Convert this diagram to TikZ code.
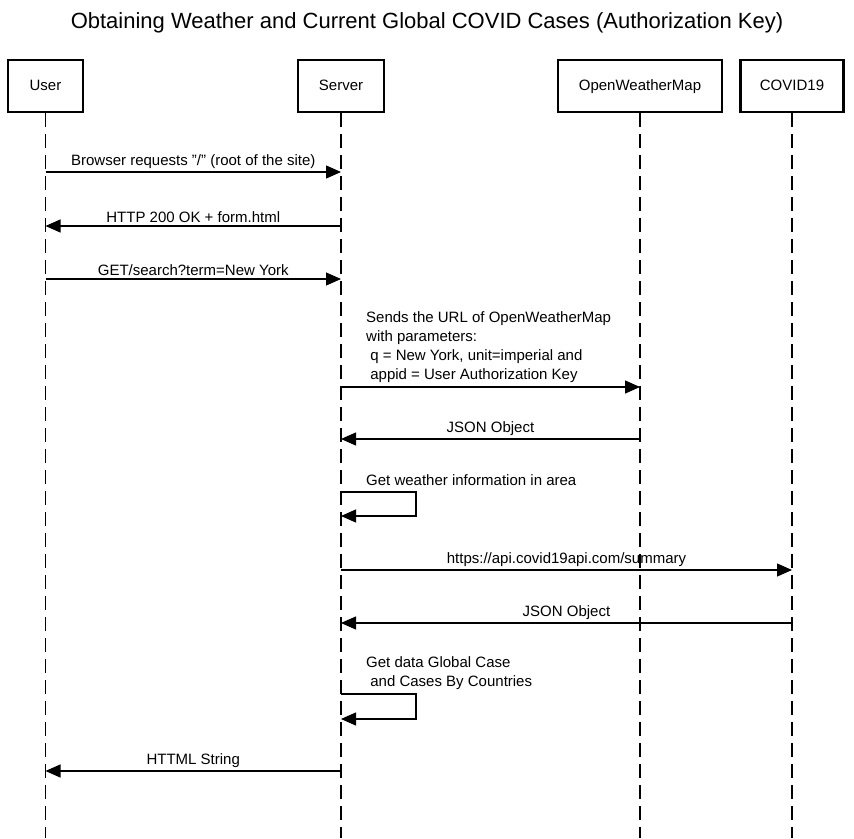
\documentclass[tikz,border=0pt]{standalone}
\usepackage{fontspec}
\setmainfont{Liberation Sans}
\usetikzlibrary{arrows.meta}
\begin{document}
\begin{tikzpicture}[x=1pt,y=-1pt,
  actor/.style={draw, line width=2.6pt, minimum height=52pt, inner sep=0pt, text height=11pt, text depth=3pt, font=\fontsize{15}{17}\selectfont},
  life/.style={line width=1.2pt, dash pattern=on 14pt off 7pt},
  msg/.style={line width=1.2pt, -{Triangle[length=15pt,width=13pt]}},
  lbl/.style={font=\fontsize{15}{19}\selectfont, inner sep=0pt},
  note/.style={lbl, align=left, anchor=north west}]
\useasboundingbox (0,0) rectangle (854,838);
\node[font=\fontsize{22}{25}\selectfont, inner sep=0pt] (title) at (427,23) {Obtaining Weather and Current Global COVID Cases (Authorization Key)};
% actors
\node[actor, minimum width=75pt] (user) at (45.5,86) {User};
\node[actor, minimum width=86pt] (server) at (341,86) {Server};
\node[actor, minimum width=164pt] (owm) at (640,86) {OpenWeatherMap};
\node[actor, minimum width=103pt] (covid) at (792,86) {COVID19};
% lifeline ends
\coordinate (userE) at (45.5,838);
\coordinate (serverE) at (341,838);
\coordinate (owmE) at (640,838);
\coordinate (covidE) at (792,838);
\draw[life] (user.south) -- (userE);
\draw[life] (server.south) -- (serverE);
\draw[life] (owm.south) -- (owmE);
\draw[life] (covid.south) -- (covidE);
% message anchors
\foreach \n/\y in {1/172,2/226,3/279,4/387,5/439,6/492,7/516,8/570,9/623,10/694,11/719,12/771}{
  \coordinate (u\n) at (45.5,\y);
  \coordinate (s\n) at (341,\y);
  \coordinate (o\n) at (640,\y);
  \coordinate (c\n) at (792,\y);
}
\draw[msg] (u1) -- node[lbl, above=3pt] (l1) {Browser requests \symbol{34}/\symbol{34} (root of the site)} (s1);
\draw[msg] (s2) -- node[lbl, above=3pt] (l2) {HTTP 200 OK + form.html} (u2);
\draw[msg] (u3) -- node[lbl, above=3pt] (l3) {GET/search?term=New York} (s3);
\node[note] (l4) at (366,311) {Sends the URL of OpenWeatherMap\\with parameters:\\\ q = New York, unit=imperial and\\\ appid = User Authorization Key};
\draw[msg] (s4) -- (o4);
\draw[msg] (o5) -- node[lbl, above=3pt] (l5) {JSON Object} (s5);
\node[note] (l6) at (366,474) {Get weather information in area};
\draw[msg] (s6) -- ++(75,0) |- (s7);
\draw[msg] (s8) -- node[lbl, above=3pt] (l8) {https://api.covid19api.com/summary} (c8);
\draw[msg] (c9) -- node[lbl, above=3pt] (l9) {JSON Object} (s9);
\node[note] (l10) at (366,656) {Get data Global Case\\\ and Cases By Countries};
\draw[msg] (s10) -- ++(75,0) |- (s11);
\draw[msg] (s12) -- node[lbl, above=3pt] (l12) {HTTML String} (u12);
\end{tikzpicture}
\end{document}
